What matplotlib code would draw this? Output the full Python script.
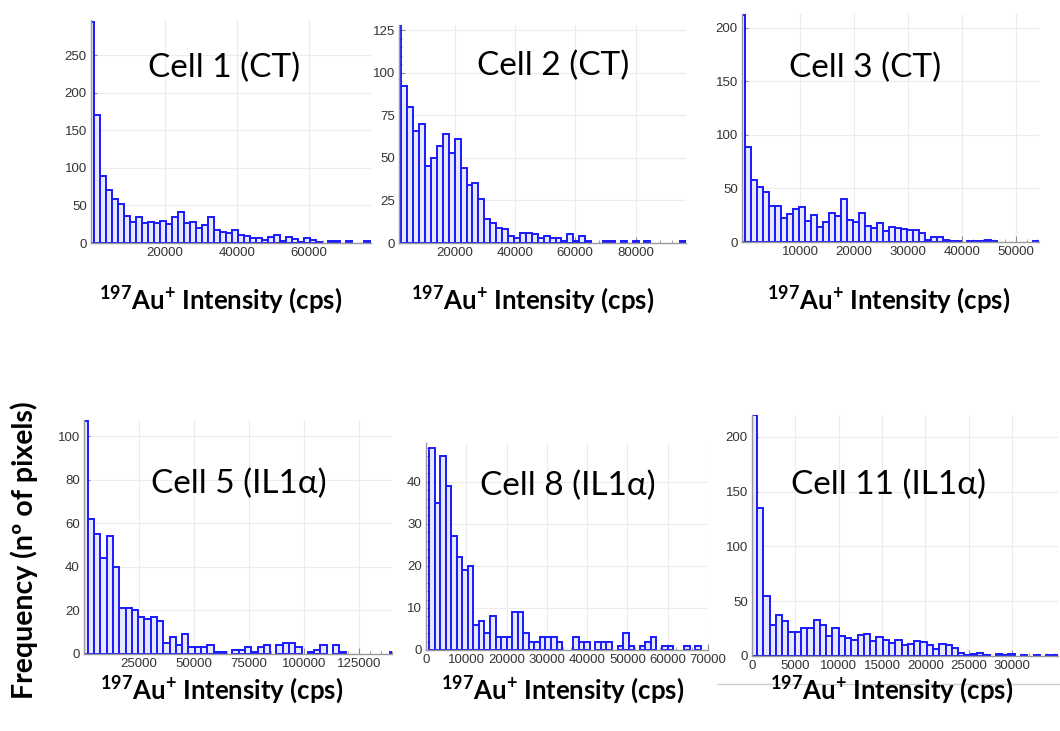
import numpy as np
import matplotlib.pyplot as plt
from matplotlib.lines import Line2D
from matplotlib.ticker import AutoMinorLocator

# ==========================================
# Data (counts per bin, first bin is cut by the axis)
# ==========================================
titles = ["Cell 1 (CT)", "Cell 2 (CT)", "Cell 3 (CT)",
          "Cell 5 (IL1α)", "Cell 8 (IL1α)", "Cell 11 (IL1α)"]

cell1_counts = [295, 170, 89, 71, 59, 52, 36, 28, 34, 27, 28, 26, 29, 25, 35, 41,
                27, 28, 20, 24, 34, 17, 15, 13, 17, 10, 9, 7, 6, 4, 8, 10, 3, 8,
                5, 1, 6, 4, 1, 0, 2, 3, 0, 2, 0, 0, 2]
cell2_counts = [128, 92, 80, 66, 70, 45, 50, 57, 64, 53, 61, 44, 34, 35, 26, 14,
                12, 9, 8, 4, 3, 6, 6, 5, 3, 4, 3, 3, 1, 5, 1, 4, 1, 0, 0, 1, 1,
                0, 1, 0, 1, 0, 1, 0, 0, 0, 0, 0, 1]
cell3_counts = [212, 89, 58, 51, 47, 34, 34, 22, 26, 31, 33, 20, 25, 14, 19, 27,
                24, 40, 21, 19, 27, 15, 13, 18, 10, 14, 13, 12, 11, 11, 8, 2, 5,
                5, 2, 1, 1, 0, 1, 1, 1, 2, 1, 0, 0, 0, 0, 0, 0, 1]
cell5_counts = [107, 62, 55, 44, 54, 40, 21, 21, 20, 17, 16, 17, 15, 5, 8, 4, 9,
                3, 3, 3, 4, 1, 1, 0, 2, 2, 3, 1, 3, 4, 0, 4, 5, 5, 3, 0, 1, 2, 4,
                0, 4, 1, 0, 0, 0, 0, 0, 0, 0, 1]
cell8_counts = [48, 35, 46, 39, 27, 22, 19, 20, 6, 7, 4, 8, 3, 3, 3, 9, 9, 4, 2,
                2, 3, 3, 3, 2, 0, 0, 3, 2, 2, 0, 2, 2, 2, 0, 1, 4, 1, 0, 1, 2, 3,
                0, 1, 1, 0, 0, 1, 0, 1]
cell11_counts = [220, 135, 55, 28, 37, 32, 22, 22, 26, 26, 33, 28, 18, 26, 18,
                 16, 15, 19, 20, 14, 17, 15, 12, 15, 10, 11, 14, 13, 10, 6, 11,
                 10, 7, 3, 1, 2, 3, 1, 0, 2, 1, 2, 0, 1, 0, 1, 0, 1, 1]

# left edge of the first bin and bin width (cps)
bin_start = [-1297, 359, -1423, -1107, 738, -148]
bin_width = [1667, 1966, 1114, 2857, 1377, 725]

x_limits = [(-556, 77200), (1550, 96700), (-800, 54300),
            (0, 140000), (0, 70000), (0, 35300)]
y_limits = [297, 128, 213, 107.5, 49.2, 220]

x_ticks = [[20000, 40000, 60000],
           [20000, 40000, 60000, 80000],
           [10000, 20000, 30000, 40000, 50000],
           [25000, 50000, 75000, 100000, 125000],
           [0, 10000, 20000, 30000, 40000, 50000, 60000, 70000],
           [0, 5000, 10000, 15000, 20000, 25000, 30000]]
y_ticks = [[0, 50, 100, 150, 200, 250],
           [0, 25, 50, 75, 100, 125],
           [0, 50, 100, 150, 200],
           [0, 20, 40, 60, 80, 100],
           [0, 10, 20, 30, 40],
           [0, 50, 100, 150, 200]]

all_counts = [cell1_counts, cell2_counts, cell3_counts,
              cell5_counts, cell8_counts, cell11_counts]

x_label = r"$^{\mathbf{197}}$Au$^{\mathbf{+}}$ Intensity (cps)"
y_label = "Frequency (nº of pixels)"

# ==========================================
# Layout (pixel boxes of the 1060x731 picture)
# ==========================================
W, H = 1060, 731
plt.rcParams['mathtext.fontset'] = 'custom'
plt.rcParams['mathtext.rm'] = 'Lato'
plt.rcParams['mathtext.bf'] = 'Lato:bold'

# left, top, right, bottom
panel_px = [(91, 20, 371, 243), (399, 25, 686, 243), (742, 14, 1039, 242),
            (84, 420, 392, 654), (426, 443, 708, 650), (752, 415, 1058, 656)]
title_pos = [(0.475, 0.784), (0.537, 0.813), (0.415, 0.763),
             (0.503, 0.727), (0.504, 0.791), (0.447, 0.709)]
xlabel_px = [(221, 300), (533, 300), (889, 300), (222, 690), (563, 690), (892, 690)]

fig = plt.figure(figsize=(W / 100, H / 100), dpi=100)

for i in range(6):
    l, t, r, b = panel_px[i]
    ax = fig.add_axes([l / W, 1 - b / H, (r - l) / W, (b - t) / H])
    counts = np.array(all_counts[i], dtype=float)
    edges = bin_start[i] + bin_width[i] * np.arange(len(counts))
    keep = counts > 0
    ax.bar(edges[keep], counts[keep], width=bin_width[i], align='edge',
           facecolor='#e8e8fb', edgecolor='#1a1aff', linewidth=1.4)

    ax.set_xlim(*x_limits[i])
    ax.set_ylim(0, y_limits[i])
    ax.set_xticks(x_ticks[i])
    ax.set_yticks(y_ticks[i])
    ax.xaxis.set_minor_locator(AutoMinorLocator(5))
    ax.yaxis.set_minor_locator(AutoMinorLocator(5))
    ax.tick_params(which='major', direction='in', length=4, width=0.8,
                   color='#8a8a8a', labelsize=9.5, labelcolor='#333333', pad=3)
    ax.tick_params(which='minor', direction='in', length=2.5, width=0.6,
                   color='#8a8a8a')
    for lab in ax.get_xticklabels() + ax.get_yticklabels():
        lab.set_family('Liberation Sans')
    ax.grid(True, which='major', color='#ececec', linewidth=0.8)
    ax.set_axisbelow(True)
    for side in ['top', 'right']:
        ax.spines[side].set_visible(False)
    for side in ['left', 'bottom']:
        ax.spines[side].set_color('#9a9a9a')
        ax.spines[side].set_linewidth(1.0)

    ax.text(title_pos[i][0], title_pos[i][1], titles[i], transform=ax.transAxes,
            ha='center', va='center', fontsize=24, color='black',
            family=['Lato', 'DejaVu Sans'])

    xx, yy = xlabel_px[i]
    fig.text(xx / W, 1 - yy / H, x_label, ha='center', va='center',
             fontsize=18.5, fontweight='bold', family=['Lato', 'DejaVu Sans'])

fig.text(24 / W, 1 - 550 / H, y_label, rotation=90, ha='center', va='center',
         fontsize=20.5, fontweight='bold', family=['Lato', 'DejaVu Sans'])

# thin frame edge under the last panel, as in the reference
fig.add_artist(Line2D([718 / W, 1.0], [1 - 684 / H, 1 - 684 / H],
                      transform=fig.transFigure, color='#cfcfcf', linewidth=1.0))

fig.savefig('out.png', dpi=100)
